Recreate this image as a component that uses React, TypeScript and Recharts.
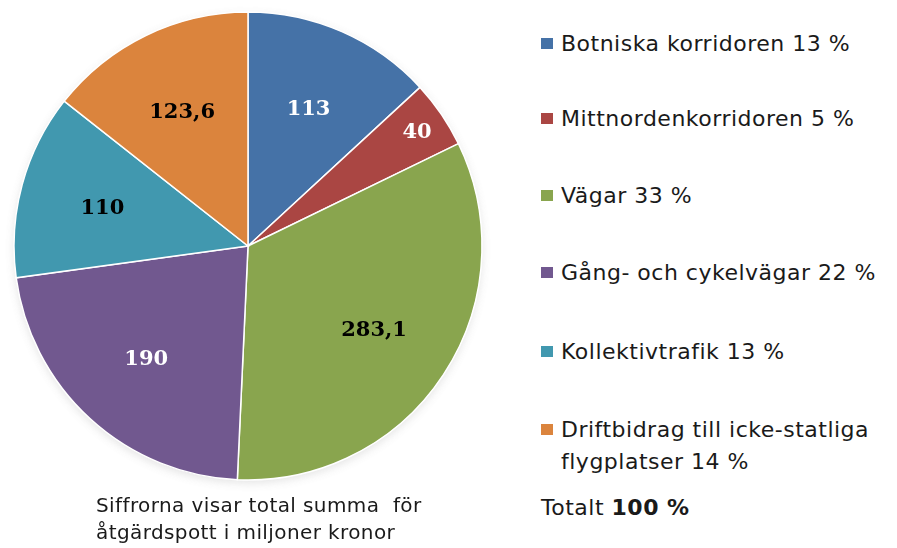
import React from "react";
import { PieChart, Pie, Cell } from "recharts";

const categories = [
  "Botniska korridoren",
  "Mittnordenkorridoren",
  "Vägar",
  "Gång- och cykelvägar",
  "Kollektivtrafik",
  "Driftbidrag till icke-statliga\nflygplatser",
];
const values = [113, 40, 283.1, 190, 110, 123.6];
const valueLabels = ["113", "40", "283,1", "190", "110", "123,6"];
const percentLabels = ["13 %", "5 %", "33 %", "22 %", "13 %", "14 %"];
const captionLines = ["Siffrorna visar total summa  för", "åtgärdspott i miljoner kronor"];
const totalLabel = "Totalt";
const totalValue = "100 %";

const COLORS = ["#4572A7", "#AA4643", "#89A54E", "#71588F", "#4198AF", "#DB843D"];
const LABEL_COLORS = ["#ffffff", "#ffffff", "#000000", "#ffffff", "#000000", "#000000"];
const ROW_CENTERS = [44, 119, 196, 273, 352, 430];

const data = categories.map((name, i) => ({ name, value: values[i], label: valueLabels[i] }));

const RAD = Math.PI / 180;
const CX = 248;
const CY = 246;
const R = 234;

const renderLabel = (props: any) => {
  const { cx, cy, midAngle, outerRadius, percent, index } = props;
  const r = percent < 0.06 ? outerRadius * 0.875 : outerRadius * 0.645;
  const x = cx + r * Math.cos(-midAngle * RAD);
  const y = cy + r * Math.sin(-midAngle * RAD);
  return (
    <text
      x={x}
      y={y}
      fill={LABEL_COLORS[index]}
      textAnchor="middle"
      dominantBaseline="central"
      fontFamily="'DejaVu Serif', serif"
      fontWeight="bold"
      fontSize={21}
    >
      {data[index].label}
    </text>
  );
};

const SANS = "'DejaVu Sans', Verdana, sans-serif";

export default function App() {
  return (
    <div
      style={{
        position: "absolute",
        left: 0,
        top: 0,
        width: 897,
        height: 548,
        background: "#ffffff",
        overflow: "hidden",
        fontFamily: SANS,
        color: "#1a1a1a",
      }}
    >
      <style>{`.shadow-pie { filter: blur(3px); opacity: 0.45; }`}</style>
      <PieChart
        width={500}
        height={500}
        margin={{ top: 0, right: 0, bottom: 0, left: 0 }}
        style={{ position: "absolute", left: 0, top: 0 }}
      >
        <Pie
          className="shadow-pie"
          data={data}
          dataKey="value"
          cx={CX}
          cy={CY + 3}
          outerRadius={R}
          startAngle={90}
          endAngle={-270}
          stroke="none"
          fill="#777777"
          isAnimationActive={false}
          legendType="none"
        />
        <Pie
          data={data}
          dataKey="value"
          cx={CX}
          cy={CY}
          outerRadius={R}
          startAngle={90}
          endAngle={-270}
          stroke="#ffffff"
          strokeWidth={1.5}
          label={renderLabel}
          labelLine={false}
          isAnimationActive={false}
        >
          {data.map((d, i) => (
            <Cell key={d.name} fill={COLORS[i]} />
          ))}
        </Pie>
      </PieChart>

      {categories.map((name, i) => {
        const centerY = ROW_CENTERS[i];
        return (
          <div
            key={name}
            style={{
              position: "absolute",
              left: 541,
              top: centerY - 16,
              display: "flex",
              alignItems: "flex-start",
            }}
          >
            <div
              style={{
                width: 12,
                height: 11,
                background: COLORS[i],
                marginTop: 10,
                marginRight: 8,
              }}
            />
            <div
              style={{
                fontSize: 22,
                lineHeight: "32px",
                letterSpacing: 0.5,
                whiteSpace: "pre-line",
              }}
            >
              {name + " " + percentLabels[i]}
            </div>
          </div>
        );
      })}

      <div
        style={{
          position: "absolute",
          left: 541,
          top: 492,
          fontSize: 22,
          lineHeight: "32px",
          letterSpacing: 0.5,
        }}
      >
        {totalLabel} <b>{totalValue}</b>
      </div>

      <div
        style={{
          position: "absolute",
          left: 96,
          top: 492,
          fontSize: 20,
          lineHeight: "27px",
          letterSpacing: 0.4,
          whiteSpace: "pre",
        }}
      >
        {captionLines.join("\n")}
      </div>
    </div>
  );
}
